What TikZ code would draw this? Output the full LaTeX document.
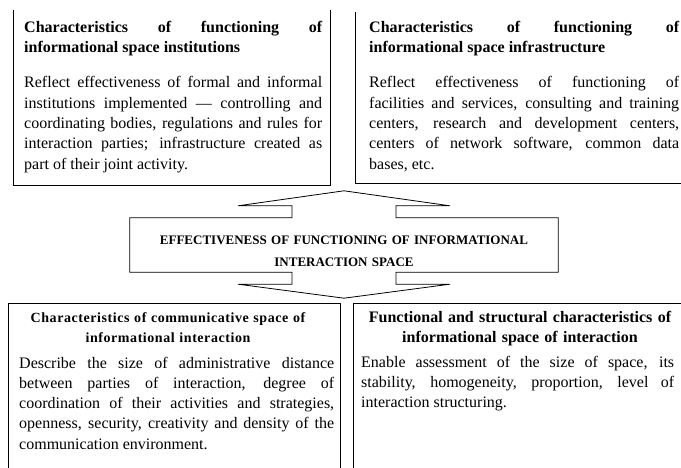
\documentclass[tikz,border=0pt]{standalone}
\usepackage{fontspec}
\setmainfont{Liberation Serif}
\newfontfamily\spacedserif[LetterSpace=4]{Liberation Serif}
\usetikzlibrary{calc}
\tolerance=10000
\hyphenpenalty=10000
\tikzset{
  panel/.style={draw, line width=0.8pt, inner sep=0pt, anchor=north west},
  openpanel/.style={inner sep=0pt, anchor=north west},
  panelline/.style={line width=0.8pt},
  headtext/.style={inner sep=0pt, anchor=base west, align=justify,
    font=\fontsize{16}{19.25}\selectfont\bfseries},
  bodytext/.style={inner sep=0pt, anchor=base west, align=justify,
    font=\fontsize{16}{20.3}\selectfont},
  centerhead/.style={inner sep=0pt, anchor=base, align=center,
    font=\fontsize{16}{19.5}\selectfont\bfseries},
  spacedhead/.style={inner sep=0pt, anchor=base, align=center,
    font=\fontsize{14}{19.5}\spacedserif\bfseries},
  effhead/.style={inner sep=0pt, align=center, text width=420pt,
    font=\fontsize{13}{22}\selectfont\bfseries},
  callout/.style={draw, line width=0.8pt, line join=miter}
}

\begin{document}
\begin{tikzpicture}[x=1pt,y=-1pt]
  \fill[white] (0,0) rectangle (681,468);
  \clip (0,0) rectangle (681,468);

  % upper row (tops run off the page)
  \node[openpanel, minimum width=317pt, minimum height=175pt] (instframe) at (13,10) {};
  \draw[panelline] (instframe.north west) |- (instframe.south east) -- (instframe.north east);
  \node[headtext, text width=298pt] (insthead) at (24,33)
    {Characteristics of functioning of\linebreak informational space institutions};
  \node[bodytext, text width=298pt] (instbody) at (24,88)
    {Reflect effectiveness of formal and informal\linebreak
     institutions implemented — controlling and\linebreak
     coordinating bodies, regulations and rules for\linebreak
     interaction parties; infrastructure created as\linebreak
     part of their joint activity.};

  \node[openpanel, minimum width=345pt, minimum height=171pt] (infraframe) at (355,12) {};
  \draw[panelline] (infraframe.north west) |- (infraframe.south east);
  \node[headtext, text width=310pt] (infrahead) at (369,33)
    {Characteristics of functioning of\linebreak informational space infrastructure};
  \node[bodytext, text width=310pt] (infrabody) at (369,88)
    {Reflect effectiveness of functioning of\linebreak
     facilities and services, consulting and training\linebreak
     centers, research and development centers,\linebreak
     centers of network software, common data\linebreak
     bases, etc.};

  % double arrow with the box in the middle
  \node[minimum width=428pt, minimum height=54pt, inner sep=0pt] (eff) at (344,245) {};
  \node[effhead] (efflabel) at ([yshift=-6pt]eff.center)
    {EFFECTIVENESS OF FUNCTIONING OF INFORMATIONAL\\ INTERACTION SPACE};
  \draw[callout] (eff.north west) -- ($(eff.north)+(-52,0)$) -- ++(0,-12) -- ++(-54,0)
    -- ($(eff.north)+(0,-27)$) -- ($(eff.north)+(106,-12)$) -- ++(-54,0) -- ++(0,12)
    -- (eff.north east) -- (eff.south east) -- ($(eff.south)+(52,0)$) -- ++(0,12)
    -- ++(54,0) -- ($(eff.south)+(0,26)$) -- ($(eff.south)+(-106,12)$) -- ++(54,0)
    -- ++(0,-12) -- (eff.south west) -- cycle;

  % lower row (bottoms run off the page)
  \node[panel, minimum width=332pt, minimum height=180pt] (commframe) at (8,303) {};
  \node[spacedhead, text width=310pt] (commhead) at (168,323)
    {Characteristics of communicative space of\\ informational interaction};
  \node[bodytext, text width=315pt] (commbody) at (19,368)
    {Describe the size of administrative distance\linebreak
     between parties of interaction, degree of\linebreak
     coordination of their activities and strategies,\linebreak
     openness, security, creativity and density of the\linebreak
     communication environment.};

  \node[panel, minimum width=347pt, minimum height=180pt] (structframe) at (353,303) {};
  \node[centerhead, text width=330pt] (structhead) at (520,323)
    {Functional and structural characteristics of\\ informational space of interaction};
  \node[bodytext, text width=313pt] (structbody) at (361,367)
    {Enable assessment of the size of space, its\linebreak
     stability, homogeneity, proportion, level of\linebreak
     interaction structuring.};
\end{tikzpicture}
\end{document}
